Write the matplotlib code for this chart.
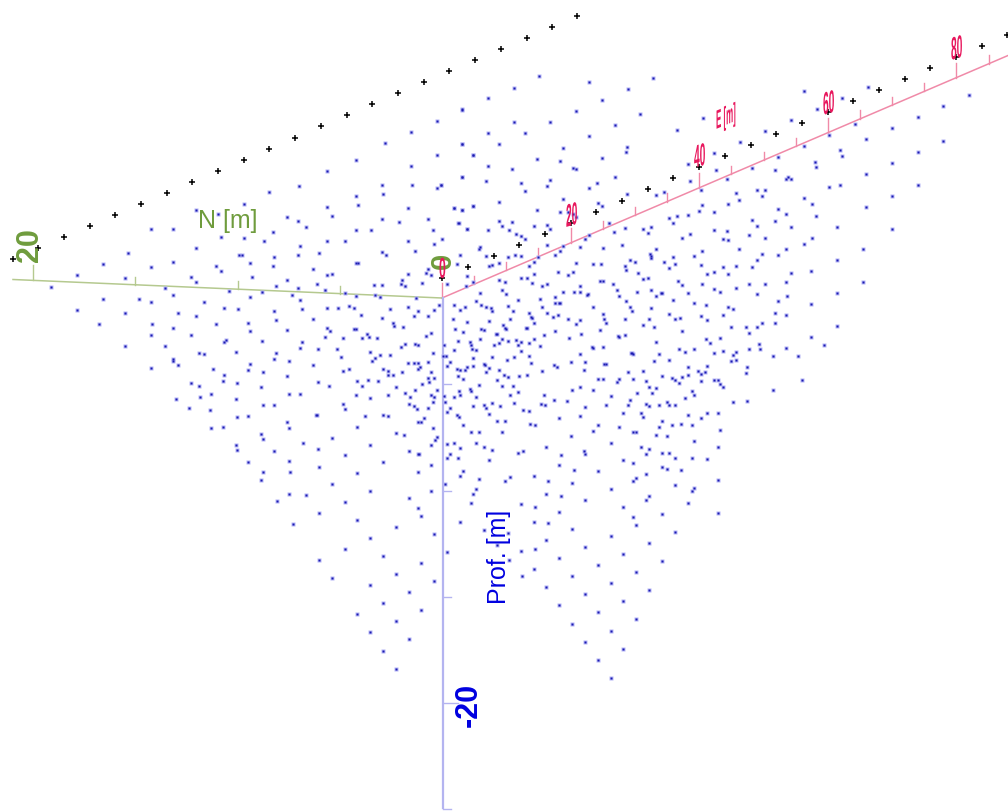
import matplotlib
matplotlib.use("Agg")
import matplotlib.pyplot as plt
import numpy as np
from matplotlib.patheffects import AbstractPathEffect
from matplotlib.transforms import Affine2D

plt.rcParams["font.family"] = ["Liberation Sans", "DejaVu Sans"]

west_origin = (0, 180)
west_pts = [(587,89),(655,103),(453,147),(520,147),(664,170),(587,203),(385,220),(717,224),(520,247),(308,253),(453,262),(649,257),(664,273),(231,286),(375,295),(572,291),(587,307),(153,320),(495,324),(687,334),(520,346),(308,357),(418,357),(453,365),(611,367),(673,385),(715,387),(231,390),(375,398),(534,400),(587,407),(298,431),(457,433),(520,444),(649,432),(453,465),(572,465),(677,479),(673,485),(375,498),(495,498),(596,519),(611,522),(707,517),(520,538)]

north_origin = (240, 60)
north_pts = [(667,149),(590,182),(513,215),(436,248),(667,252),(590,285),(700,285),(349,301),(513,319),(262,334),(667,352),(176,377),(426,375),(517,374),(604,376),(590,385),(88,397),(349,408),(430,402),(11,431),(353,434),(262,441),(503,444),(642,445),(666,451),(700,437),(142,470),(276,467),(175,482),(426,477),(478,486),(565,478),(656,490),(199,500),(349,510),(392,511),(580,510),(680,506),(98,516),(11,533)]

centre_origin = (240, 240)
centre_pts = [(73,3),(262,4),(315,4),(503,4),(583,12),(180,18),(526,32),(6,44),(102,51),(175,44),(237,38),(425,36),(439,44),(31,68),(99,78),(347,69),(353,69),(218,88),(564,88),(559,98),(574,105),(262,105),(276,102),(503,102),(35,110),(141,121),(487,121),(546,128),(108,138),(232,132),(175,144),(256,149),(401,135),(425,135),(482,131),(496,138),(65,155),(314,159),(155,166),(349,169),(405,165),(419,172),(527,174),(31,171),(180,181),(102,214),(185,206),(262,204),(295,204),(328,198),(343,204),(362,224),(449,208),(503,201),(535,214),(521,227),(583,210),(564,227),(598,194),(425,234),(108,239),(218,237),(25,248),(458,248),(463,258),(488,260),(31,272),(141,270),(262,264),(271,272),(343,267),(348,267),(381,282),(387,292),(367,294),(410,294),(310,294),(256,291),(574,279),(559,287),(65,303),(185,306),(180,323),(233,326),(290,326),(482,320),(496,313),(525,312),(535,316),(108,339),(102,357),(146,363),(304,352),(391,336),(419,346),(449,346),(405,354),(396,364),(578,338),(564,365),(31,372),(25,390),(68,397),(218,376),(310,393),(328,387),(430,388),(444,393),(444,404),(458,404),(487,397),(503,370),(521,370),(535,370),(540,380),(535,388),(574,396),(141,409),(233,426),(352,422),(385,421),(414,422),(366,437),(267,437),(468,440),(545,432),(563,413),(583,413),(568,427),(525,450),(592,451),(64,442),(146,463),(180,461),(347,465),(391,474),(444,466),(496,458),(511,471),(574,465),(583,471),(578,487),(68,496),(102,494),(310,493),(314,507),(506,492),(521,499),(530,506),(564,503),(25,528),(228,524),(232,524),(376,529),(430,526),(444,529),(553,535)]

east_up_origin = (440, 60)
east_up_pts = [(298,49),(447,65),(639,53),(221,83),(563,86),(144,115),(485,119),(67,148),(408,153),(601,162),(221,186),(331,185),(524,196),(711,209),(144,219),(254,218),(447,229),(67,252),(177,252),(370,263),(562,261),(557,275),(100,285),(292,296),(485,294),(360,302),(144,319),(399,323),(408,327),(215,328),(67,352),(138,362),(331,361),(524,352),(244,370),(321,379),(4,375),(470,369),(447,385),(254,394),(561,402),(648,404),(672,396),(370,418),(177,426),(475,430),(485,439),(42,445),(66,451),(100,437),(292,451),(360,455),(385,457),(398,463),(407,471),(687,474),(711,468),(700,488),(177,483),(215,485),(186,499),(55,490),(282,497),(320,495),(508,490),(331,506),(80,506),(143,510),(206,510),(522,515),(556,505),(609,506),(634,501),(623,520),(229,523),(243,529),(254,537),(447,525),(435,537),(5,537)]

east_origin = (440, 240)
east_pts = [(320,14),(369,18),(421,22),(488,24),(547,14),(648,27),(119,20),(118,28),(359,32),(345,44),(295,51),(61,44),(138,47),(205,52),(224,45),(244,49),(157,74),(146,79),(177,69),(282,65),(267,77),(407,70),(460,72),(483,72),(571,60),(585,67),(630,41),(633,49),(632,55),(699,50),(672,67),(704,72),(686,83),(556,79),(557,90),(51,72),(80,107),(282,102),(354,96),(398,97),(383,105),(244,115),(262,115),(595,100),(608,116),(623,114),(176,120),(196,127),(277,129),(320,131),(306,138),(480,122),(488,123),(518,133),(715,124),(22,132),(79,138),(100,127),(421,137),(185,149),(421,156),(402,155),(369,156),(532,149),(632,150),(590,157),(662,160),(667,160),(440,166),(445,163),(537,169),(648,169),(199,162),(119,160),(344,171),(300,177),(234,179),(109,182),(345,188),(358,188),(361,188),(557,183),(700,180),(42,194),(123,196),(139,201),(152,204),(157,212),(205,198),(306,201),(460,202),(570,202),(576,214),(633,204),(61,209),(75,200),(220,212),(268,220),(273,232),(277,234),(320,219),(354,224),(340,232),(488,222),(686,222),(705,238),(720,234),(493,236),(499,248),(556,237),(628,238),(147,242),(210,238),(40,236),(80,245),(383,236),(421,241),(407,252),(282,250),(189,255),(196,265),(199,266),(608,255),(642,261),(46,266),(123,268),(132,271),(259,265),(262,265),(69,276),(344,274),(479,270),(168,283),(171,283),(311,284),(422,281),(533,287),(538,292),(556,284),(387,294),(119,298),(185,298),(176,310),(205,303),(228,301),(282,298),(55,304),(89,306),(267,308),(243,307),(162,316),(233,316),(301,319),(647,307),(12,316),(92,316),(95,327),(108,331),(243,333),(41,331),(455,322),(460,325),(488,320),(717,328),(420,341),(572,339),(576,339),(579,343),(656,343),(8,349),(18,349),(100,353),(156,351),(223,351),(267,347),(200,361),(30,366),(392,365),(435,365),(642,362),(686,360),(22,379),(80,381),(100,377),(133,371),(136,376),(147,385),(273,370),(343,374),(350,380),(493,373),(498,371),(52,386),(61,391),(75,391),(176,391),(137,396),(306,392),(431,390),(565,395),(608,394),(55,407),(70,417),(191,404),(205,411),(238,407),(262,404),(171,420),(473,416),(488,418),(537,416),(532,426),(579,417),(666,407),(696,414),(705,419),(718,428),(618,424),(628,441),(118,436),(185,437),(219,437),(420,441),(397,450),(460,449),(647,445),(637,460),(89,446),(94,453),(56,453),(42,470),(61,466),(107,471),(210,464),(234,457),(311,466),(512,468),(590,460),(571,479),(681,487),(686,496),(343,480),(382,482),(12,468),(16,486),(223,490),(156,490),(180,497),(99,498),(131,496),(137,503),(304,492),(316,496),(435,502),(499,494),(565,495),(619,493),(628,498),(657,495),(705,495),(30,504),(22,516),(147,522),(248,509),(267,514),(421,527),(550,520),(604,519),(609,530),(52,526),(56,530),(358,535)]

far_up_origin = (680, 30)
far_up_pts = [(371,183),(563,171),(487,204),(410,238),(68,265),(333,271),(255,303),(179,337),(101,370),(24,403),(448,314),(371,347),(294,380),(217,413),(525,281),(636,295),(713,262),(790,229),(867,196),(790,332),(558,328),(481,361),(486,379),(405,395),(409,412),(713,365),(636,398),(107,420),(284,421),(29,452),(140,447),(558,431),(323,441),(317,447),(332,446),(448,470),(481,465),(713,465),(62,480),(169,488),(231,480),(255,479),(245,497),(636,499),(178,511),(371,503),(145,522),(67,524),(395,521),(294,536),(558,532),(57,544),(101,545),(317,553),(24,555),(409,557),(216,569),(284,574),(231,588),(332,590),(471,590),(636,598),(101,601),(140,603),(29,611),(207,616),(5,623),(255,623),(395,623),(130,628),(144,629)]

far_origin = (680, 240)
far_pts = [(177,27),(318,26),(371,13),(549,26),(67,32),(43,49),(245,43),(294,46),(471,60),(231,61),(63,75),(130,81),(168,77),(217,80),(394,93),(101,97),(82,103),(144,101),(332,98),(318,126),(549,126),(67,133),(207,131),(255,131),(5,136),(168,143),(101,148),(120,156),(24,158),(231,161),(471,158),(322,168),(294,184),(43,189),(77,194),(394,192),(144,200),(158,208),(284,218),(318,225),(63,228),(130,226),(82,241),(245,248),(284,248),(153,262),(197,260),(231,261),(471,257),(207,278),(5,274),(394,291),(77,296),(120,293),(91,310),(236,313),(432,315),(43,326),(207,327),(240,328),(318,324),(14,335),(130,332),(101,339),(168,335),(158,346),(278,349),(355,348),(153,362),(168,361),(24,381),(81,379),(201,382),(53,392),(76,396),(197,398),(62,402),(24,405),(5,411),(365,421),(62,424),(101,420),(115,420),(120,432),(129,440),(278,450),(37,453),(43,465),(14,474),(158,485),(201,483),(81,518),(115,520),(24,526),(62,533)]

low_west_origin = (140, 360)
low_west_pts = [(32,25),(99,3),(113,15),(219,26),(253,45),(248,63),(152,70),(176,79),(292,70),(214,103),(180,112),(109,117),(287,116),(147,144),(209,149),(292,170),(440,187),(446,204),(214,203),(248,201),(652,200),(835,187),(844,186),(878,204),(363,221),(369,238),(575,234),(768,219),(791,225),(892,230),(884,240),(489,250),(287,254),(292,270),(533,266),(691,254),(873,254),(402,273),(806,273),(834,282),(838,283),(614,286),(325,306),(446,303),(729,306),(369,337),(451,337),(537,320),(652,340),(835,336),(873,315),(363,359),(575,372),(691,393),(873,392),(446,403),(498,405),(411,423),(806,413),(614,426),(835,444),(537,459),(844,467),(652,479),(459,492),(768,500),(883,521),(691,534),(614,567),(729,588),(537,600),(844,608),(768,642),(575,654),(883,662),(691,675),(806,696),(844,751),(729,730),(652,762),(768,784),(691,817),(806,838),(729,872),(768,926)]

low_east_origin = (440, 415)
low_east_pts = [(171,18),(196,19),(271,28),(286,29),(667,18),(474,30),(657,35),(696,30),(724,26),(757,29),(69,31),(536,35),(94,51),(118,51),(185,50),(460,47),(579,50),(588,50),(840,46),(392,62),(647,59),(680,62),(512,83),(763,79),(22,87),(41,85),(108,84),(60,100),(132,96),(157,105),(319,97),(603,95),(627,102),(835,96),(233,113),(248,107),(431,107),(435,116),(618,117),(667,115),(686,113),(31,117),(22,128),(55,128),(363,120),(705,128),(757,128),(801,133),(146,136),(550,135),(579,144),(358,149),(667,156),(680,161),(402,166),(474,169),(724,166),(69,169),(60,182),(281,182),(209,186),(618,178),(588,188),(579,199),(118,191),(195,199),(325,199),(397,203),(835,195),(705,210),(16,207),(763,220),(757,228),(108,222),(512,223),(99,236),(319,236),(363,244),(627,242),(618,254),(435,256),(93,263),(242,268),(743,264),(286,277),(550,276),(358,290),(666,297),(835,294),(579,307),(60,322),(281,322),(325,323),(589,330),(132,344),(397,343),(705,351),(203,355),(512,364),(319,376),(627,384),(171,390),(435,397),(286,403),(242,409),(22,410),(550,417),(358,430),(208,435),(666,438),(473,451),(281,463),(589,471),(247,482),(397,484),(512,505),(319,517),(627,525),(435,538),(550,559),(358,571),(473,592),(589,613),(397,626),(512,647),(435,680),(550,701),(473,734),(512,789)]

# black crosses, two straight rows
back_row_x = [13,38,64,90,115,141,167,192,218,244,269,295,321,347,372,398,424,449,475,501,527,552,577]
back_row_y = [259,248,237,226,215,204,193,182,171,160,149,138,126,115,104,93,82,71,60,49,38,27,16]
front_row_x = [442,468,494,519,545,571,596,622,648,673,699,725,751,776,802,828,853,879,905,930,956,982,1007]
front_row_y = [278,267,256,245,234,223,212,201,189,178,167,156,145,134,123,112,101,90,79,68,57,46,35]

# axes ticks in metres
e_ticks = list(range(0, 90, 5))
n_ticks = [0, 5, 10, 15, 20]
d_ticks = [-5, -10, -15, -20, -25]
e_labels = ["20", "40", "60", "80"]

GREEN = "#6f9c3d"
PINK = "#e8175d"
BLUE = "#0000e0"


class Squeeze(AbstractPathEffect):
    # the 3d labels in the original are flattened and sheared
    def __init__(self, sx, k=0.0):
        super().__init__()
        self.sx = sx
        self.k = k

    def draw_path(self, renderer, gc, tpath, affine, rgbFace=None):
        ox, oy = affine.transform((0, 0))
        squash = Affine2D.from_values(self.sx, self.k * self.sx, 0, 1, 0, 0)
        t = affine + Affine2D().translate(-ox, -oy) + squash + Affine2D().translate(ox, oy)
        renderer.draw_path(gc, tpath, t, rgbFace)


fig = plt.figure(figsize=(10.08, 8.11), dpi=100)
ax = fig.add_axes([0, 0, 1, 1])
ax.set_xlim(0, 1008)
ax.set_ylim(811, 0)
ax.axis("off")

groups = [(west_origin, west_pts), (north_origin, north_pts), (centre_origin, centre_pts),
          (east_up_origin, east_up_pts), (east_origin, east_pts), (far_up_origin, far_up_pts),
          (far_origin, far_pts), (low_west_origin, low_west_pts), (low_east_origin, low_east_pts)]
bx, by = [], []
for origin, pts in groups:
    arr = np.array(pts) / 3.0
    bx.extend(arr[:, 0] + origin[0])
    by.extend(arr[:, 1] + origin[1])

# E axis
e_col = "#f08aa8"
ax.plot([442, 1008], [298, 55.5], color=e_col, lw=1.1, zorder=2)
for e in e_ticks:
    x = 442 + 6.43 * e
    y = 298 - 2.755 * e
    h = 15 if e % 20 == 0 else 8.5
    ax.plot([x, x], [y, y - h], color=e_col, lw=1.0, zorder=2)

# N axis
n_col = "#b5c98f"
ax.plot([13, 442], [279.5, 298], color=n_col, lw=1.1, zorder=2)
for n in n_ticks[1:]:
    x = 442 - 20.45 * n
    y = 298 - 0.9 * n
    h = 15 if n == 20 else 8
    ax.plot([x, x], [y, y - h], color=n_col, lw=1.0, zorder=2)

# depth axis
d_col = "#b4b4f0"
ax.plot([442.5, 442.5], [298, 808], color=d_col, lw=1.6, zorder=2)
for d in d_ticks:
    y = 278 - 21.25 * d
    w = 15 if d == -20 else 8
    ax.plot([442.5, 442.5 + w], [y, y], color=d_col, lw=1.0, zorder=2)

ax.plot(bx, by, ls="none", marker="s", ms=3.4, mfc="#b4b4f6", mec="none", zorder=3)
ax.plot(bx, by, ls="none", marker="s", ms=1.5, mfc="#1a1ab0", mec="none", zorder=4)

ax.plot(back_row_x, back_row_y, ls="none", marker="+", ms=4.5, mew=1.1, color="black", zorder=4)
ax.plot(front_row_x, front_row_y, ls="none", marker="+", ms=4.5, mew=1.1, color="black", zorder=4)

# green labels
ax.text(198, 228, "N [m]", color=GREEN, fontsize=18, ha="left", va="baseline", zorder=6)
ax.text(45, 245, "20", color=GREEN, fontsize=22, fontweight="bold", rotation=90, ha="right", va="center", zorder=6)
ax.text(442.5, 261, "0", color=GREEN, fontsize=21, rotation=90, ha="center", va="center",
        fontweight="bold", zorder=5)

# blue labels
ax.text(511, 604, "Prof. [m]", color=BLUE, fontsize=18, rotation=90, ha="right", va="bottom", zorder=6)
ax.text(484, 727, "-20", color=BLUE, fontsize=22, fontweight="bold", rotation=90, ha="right", va="bottom", zorder=6)

# pink labels, squeezed along the E axis
for lab, lx, ly in zip(e_labels, [566, 694, 823, 951], [227, 168, 115, 60]):
    t = ax.text(lx, ly, lab, color=PINK, fontsize=23, fontweight="bold", ha="left", va="baseline", zorder=6)
    t.set_path_effects([Squeeze(0.32, 0.3)])
t = ax.text(439, 278, "0", color=PINK, fontsize=21, fontweight="bold", ha="left", va="baseline", zorder=6)
t.set_path_effects([Squeeze(0.42)])
t = ax.text(716, 129, "E [m]", color=PINK, fontsize=19, fontweight="bold", ha="left", va="baseline", zorder=6)
t.set_path_effects([Squeeze(0.3, 0.42)])

fig.savefig("out.png", dpi=100, facecolor="white")
